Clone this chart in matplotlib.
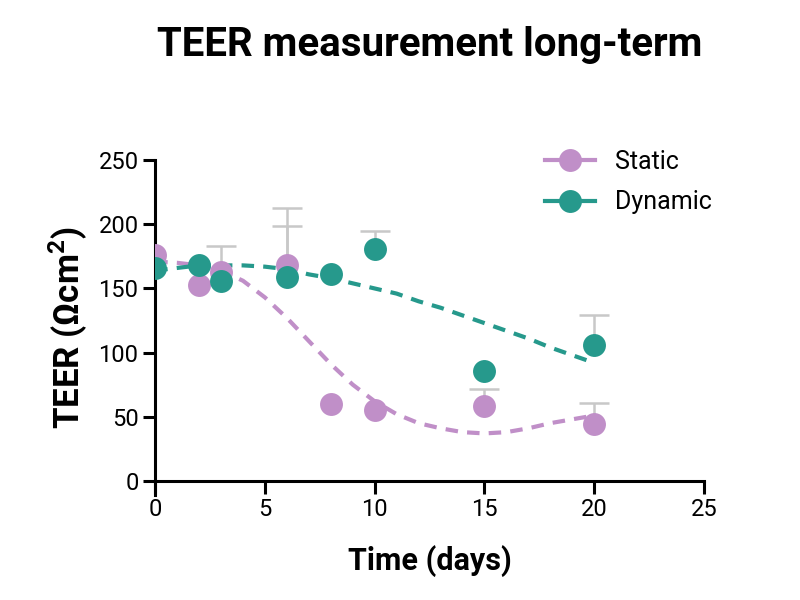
import numpy as np
import matplotlib.pyplot as plt

plt.rcParams['font.family'] = ['Roboto', 'DejaVu Sans']
plt.rcParams['mathtext.fontset'] = 'custom'
plt.rcParams['mathtext.rm'] = 'Roboto'
plt.rcParams['mathtext.bf'] = 'Roboto:bold'

# measured points
days = [0, 2, 3, 6, 8, 10, 15, 20]
static_teer = [176, 153, 163, 168, 60, 55, 58, 44]
static_err = [0, 0, 20, 45, 0, 0, 14, 17]
dynamic_teer = [166, 168, 156, 159, 161, 181, 86, 106]
dynamic_err = [0, 0, 0, 40, 0, 14, 0, 23]

# fitted curves
fit_days = list(range(0, 21))
static_fit = [171, 170, 168, 164, 156, 143, 127, 109, 91, 75, 62,
              52, 45, 41, 38, 37, 38, 41, 45, 48, 51]
dynamic_fit = [164, 166, 168, 168, 168, 167, 165, 161, 158, 154, 150,
               146, 140, 135, 129, 123, 117, 111, 104, 98, 92]

purple = '#C08FC8'
teal = '#26998C'
err_col = '#C8C8C8'

fig = plt.figure(figsize=(8, 6), dpi=100)
ax = fig.add_axes([0.194, 0.175, 0.686, 0.558])

for y, e, col, fit, lab in [(static_teer, static_err, purple, static_fit, 'Static'),
                            (dynamic_teer, dynamic_err, teal, dynamic_fit, 'Dynamic')]:
    x = np.array(days)
    y = np.array(y)
    e = np.array(e)
    has = e > 0
    # upper error only: stem + top cap
    ax.vlines(x[has], y[has], y[has] + e[has], color=err_col, lw=1.8, zorder=2)
    ax.plot(x[has], y[has] + e[has], ls='none', marker='_', ms=22, mew=1.8,
            color=err_col, zorder=2)
    ax.plot(fit_days, fit, color=col, lw=3, ls=(0, (3, 2.2)), zorder=3)
    ax.plot(x, y, 'o', color=col, ms=16.5, mec='none', zorder=4)
    ax.plot([], [], color=col, lw=3, marker='o', ms=16.5, mec='none', label=lab)

ax.set_xlim(0, 25)
ax.set_ylim(-11, 250)
ax.set_xticks([0, 5, 10, 15, 20, 25])
ax.set_yticks([0, 50, 100, 150, 200, 250])
ax.spines['bottom'].set_position(('data', 0))
ax.spines['top'].set_visible(False)
ax.spines['right'].set_visible(False)
for s in ('left', 'bottom'):
    ax.spines[s].set_linewidth(2.2)
ax.tick_params(width=2.2, length=9, labelsize=17, pad=3)

ax.set_xlabel('Time (days)', fontsize=22, fontweight='bold')
ax.set_ylabel('TEER (Ωcm$^{\\mathbf{2}}$)', fontsize=25, fontweight='bold', labelpad=6)
ax.xaxis.set_label_coords(0.5, -0.15)

fig.text(0.537, 0.925, 'TEER measurement long-term', ha='center', va='center',
         fontsize=29, fontweight='bold')

leg = ax.legend(loc='upper left', bbox_to_anchor=(0.67, 1.097), frameon=False,
                fontsize=18, handlelength=2.0, labelspacing=0.65, handletextpad=0.8)

fig.savefig('out.png', dpi=100)
